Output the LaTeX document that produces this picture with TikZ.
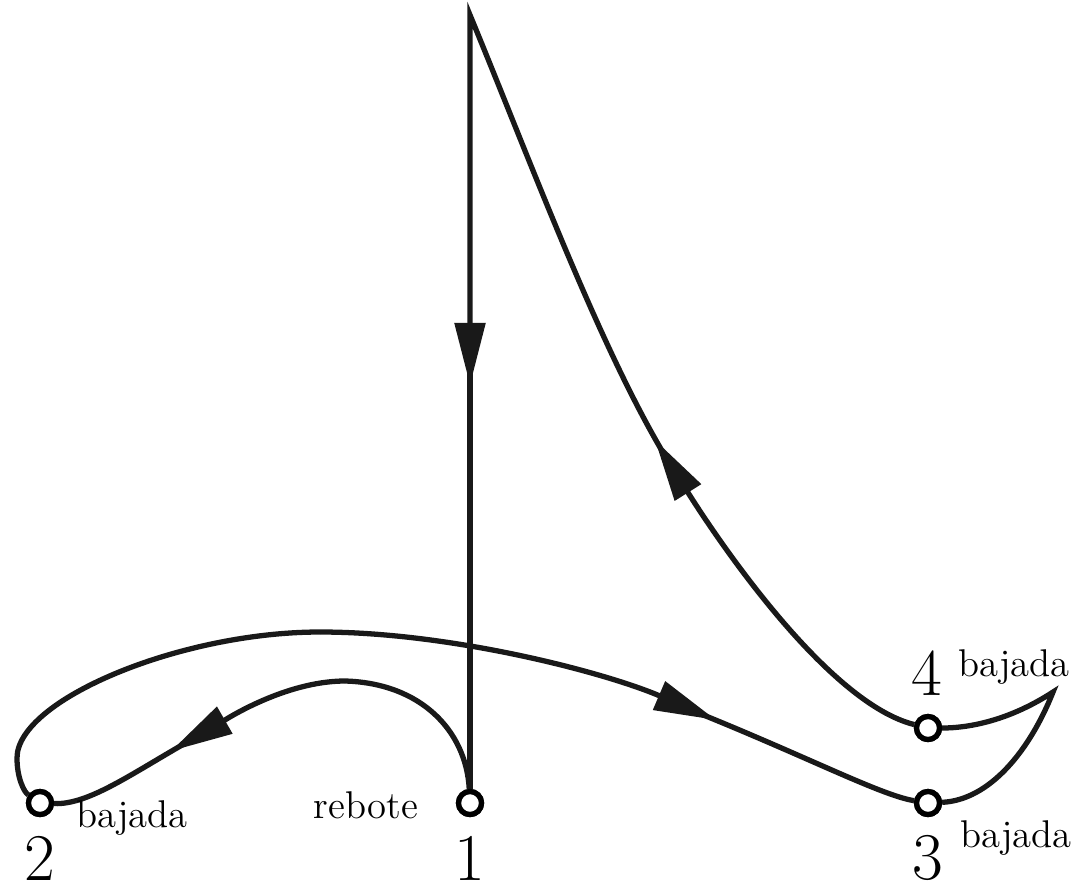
\documentclass[tikz,border=0pt]{standalone}
\usepackage{tikz}
\usetikzlibrary{arrows.meta,positioning}
\tikzset{
  traj/.style={line width=1.5pt, line join=miter, black!90},
  fl/.style={traj, -{Triangle[length=6.2mm, width=3mm]}},
  cont/.style={traj, shorten <=-3mm},
  pt/.style={circle, draw, line width=1.5pt, fill=white, minimum size=2.3mm, inner sep=0pt},
  num/.style={font=\fontsize{19}{22}\selectfont, inner sep=0pt},
  lbl/.style={font=\fontsize{11}{13}\selectfont, inner sep=0pt},
}

\begin{document}
\begin{tikzpicture}[x=0.01cm,y=-0.01cm]
\useasboundingbox (0,0) rectangle (1089,888);
% bounce points
\node[pt] (p1) at (470,803) {};
\node[pt] (p2) at (40,803) {};
\node[pt] (p3) at (928,803) {};
\node[pt] (p4) at (928,728) {};
\coordinate (top) at (470,15);
\coordinate (cusp) at (1053,692);
% arrow tips and turning points
\coordinate (a1) at (470,385);
\coordinate (a12) at (171,751);
\coordinate (a23) at (716,720);
\coordinate (a4) at (655,440);
\coordinate (h12) at (345,681);
\coordinate (w2) at (17,758);
\coordinate (h23) at (320,632);
% fall and rise
\draw[fl, cont] (a4) .. controls (602,355) and (530,160) .. (top) -- (a1);
\draw[cont] (a1) -- (p1);
% 1 -> 2
\draw[traj] (p1) .. controls (466,730) and (420,683) .. (h12);
\draw[fl] (h12) .. controls (285,681) and (225,720) .. (a12);
\draw[cont] (a12) .. controls (135,771) and (90,805) .. (p2);
% 2 -> 3
\draw[traj] (p2) .. controls (24,792) and (17,778) .. (w2)
  .. controls (17,700) and (180,632) .. (h23);
\draw[fl] (h23) .. controls (450,632) and (604,672) .. (a23);
\draw[cont] (a23) .. controls (806,756) and (880,795) .. (p3);
% 3 -> 4 -> top
\draw[traj] (p3) .. controls (990,800) and (1030,750) .. (cusp)
  .. controls (1010,720) and (970,728) .. (p4);
\draw[fl] (p4) .. controls (828,703) and (719,542) .. (a4);
% points on top of the lines
\foreach \p in {p1,p2,p3,p4} \node[pt] at (\p) {};
% labels
\node[num] (n1) at (470,858) {1};
\node[num] (n2) at (40,858) {2};
\node[num] (n3) at (928,858) {3};
\node[num] (n4) at (927,673) {4};
\node[lbl] (r1) at (366,805) {rebote};
\node[lbl] (b2) at (132,818) {bajada};
\node[lbl] (b3) at (1016,838) {bajada};
\node[lbl] (b4) at (1014,667) {bajada};
\end{tikzpicture}
\end{document}
